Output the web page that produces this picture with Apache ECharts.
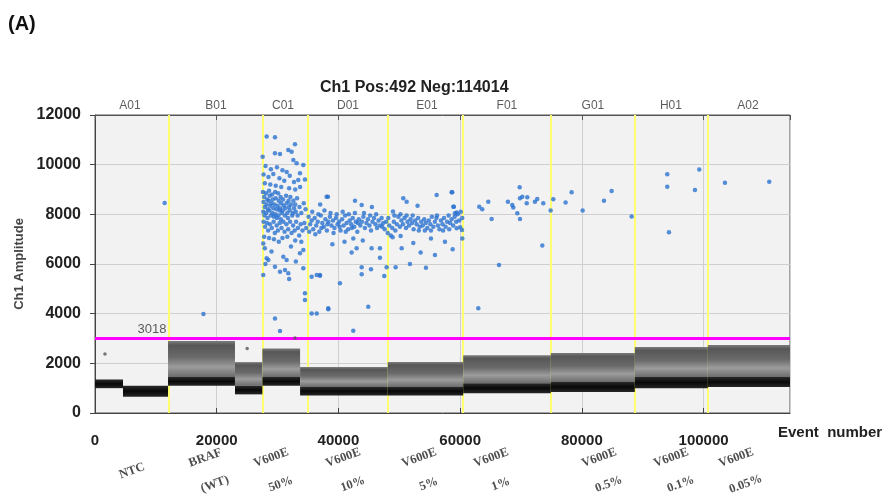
<!DOCTYPE html>
<html><head><meta charset="utf-8">
<script src="https://cdn.jsdelivr.net/npm/echarts@6/dist/echarts.min.js"></script>
<style>html,body{margin:0;padding:0;background:#fff}#c{width:893px;height:497px}</style>
</head><body><div id="c"></div>
<script>
// ---- data ----
const titleText = 'Ch1 Pos:492 Neg:114014';
const threshold = 3018;
const wellNames = ['A01','B01','C01','D01','E01','F01','G01','H01','A02'];
const wellCenters = [5750,19880,30890,41570,54550,67690,81820,94640,107300];
const wellBoundaries = [12160,27600,35000,48140,60460,74920,88720,100720];
const sampleNames = ['NTC','BRAF\n(WT)','V600E\n50%','V600E\n10%','V600E\n5%','V600E\n1%','V600E\n0.5%','V600E\n0.1%','V600E\n0.05%'];
const sampleX = [6080,18900,29740,41570,54050,65880,83630,95460,106140];
// negative droplet bands: [eventStart, eventEnd, blackLow, blackHigh, grayTop(0 = none)]
const negBands = [
  [0,4600,1000,1350,0],
  [4600,12000,650,1100,0],
  [12000,23000,1100,1450,2900],
  [23000,27500,750,1100,2050],
  [27500,33700,1100,1450,2600],
  [33700,48100,700,1050,1850],
  [48100,60500,700,1050,2050],
  [60500,74900,800,1200,2330],
  [74900,88700,850,1250,2420],
  [88700,100700,1000,1450,2660],
  [100700,114200,1050,1450,2740]
];
const negOutliers = [[1635,2375],[25000,2600],[32860,3020]];
const posDroplets = [
 [11445,8457],[17820,3990],
 [28210,11130],[29570,11100],[32860,10820],[27550,10320],[29570,10460],[30400,10430],[31760,10590],[32310,10520],[32590,10190],[33130,10060],[34230,9990],[33680,9650],[33400,9380],[28020,9950],[28900,9820],[29900,9900],[30800,9780],[31500,9700],[27700,9600],[28500,9500],[29300,9620],[30300,9450],[31100,9350],[32000,9550],[32700,9300],[27900,9250],[28800,9200],[29700,9150],[30600,9100],[31900,9050],[32900,9000],[33700,9100],[34500,9400],
 [27600,8900],[27800,8700],[27700,8500],[27900,8300],[27650,8100],[27850,7950],[28100,8850],[28300,8600],[28200,8400],[28400,8200],[28150,8050],[28350,7850],[28600,8950],[28700,8750],[28550,8550],[28800,8350],[28650,8150],[28900,7950],[29100,8800],[29200,8600],[29000,8450],[29300,8250],[29150,8050],[29400,7900],[29600,8900],[29700,8650],[29500,8400],[29800,8200],[29650,8000],[29900,7850],[30100,8850],[30200,8550],[30000,8350],[30300,8150],[30150,7950],[30500,8700],[30600,8450],[30400,8250],[30700,8050],[30550,7800],[30900,8600],[31000,8350],[30850,8150],[31200,7950],[31400,8750],[31500,8450],[31300,8250],[31600,8050],[31800,8550],[31900,8300],[31700,7850],[32100,8700],[32200,8400],[32000,8150],[32400,7950],[32600,8550],[32700,8250],[32500,8050],[32900,8400],[33000,8100],[33200,8650],[33300,7950],[33600,8300],[33900,8050],[34300,8450],[34600,8200],
 [27700,7700],[27950,7500],[28250,7650],[28450,7350],[28750,7600],[29050,7450],[29350,7700],[29550,7250],[29850,7550],[30050,7350],[30350,7650],[30650,7450],[30950,7700],[31150,7300],[31450,7600],[31750,7400],[32050,7700],[32300,7250],[32550,7550],[32800,7350],[33050,7700],[33350,7450],[33550,7150],[33800,7600],[34100,7350],[34400,7650],[34700,7450],[27800,7100],[28600,7050],[29400,7000],[30800,7050],[31600,7100],[32900,6950],[33900,6900],
 [27650,5560],[29570,5890],[30400,5690],[31220,5760],[31760,5630],[28210,6230],[28480,6160],[30940,6290],[31490,6160],[34230,5830],[27650,6830],[27900,6630],[33680,6430],[34230,6560],[34500,4820],[34500,4550],[29570,3810],[30400,3300],[28000,6000],[32200,6700],[29000,6500],[33000,6100],[30200,6900],[31900,5400],
 [35100,7900],[35350,7600],[35600,7750],[35850,7400],[36100,7850],[36350,7550],[36600,7700],[36850,7300],[37100,7950],[37350,7650],[37600,7500],[37850,7800],[38100,7350],[38350,7700],[38600,7900],[38850,7550],[39100,7750],[39350,7450],[39600,7850],[39850,7600],[40100,7700],[40350,7350],[40600,7800],[40850,7550],[41100,7950],[41350,7650],[41600,7400],[41850,7750],[42100,7600],[42350,7850],[42600,7500],[42850,7700],[43100,7300],[43350,7800],[43600,7550],[43850,7700],[44100,7900],[44350,7450],[44600,7650],[44850,7800],[45100,7550],[45350,7350],[45600,7700],[45850,7850],[46100,7600],[46350,7450],[46600,7750],[46850,7550],[47100,7850],[47350,7650],[47600,7400],[47850,7700],[48100,7250],[48350,7550],[48600,7150],[48850,7450],[49100,7700],[49350,7350],[49600,7600],[49850,7900],[50100,7500],[50350,7750],[50600,7600],[50850,7850],[51100,7450],[51350,7700],[51600,7550],[51850,7800],[52100,7650],[52350,7400],[52600,7750],[52850,7600],[53100,7850],[53350,7500],[53600,7700],[53850,7550],[54100,7800],[54350,7650],[54600,7450],[54850,7750],[55100,7600],[55350,7900],[55600,7500],[55850,7700],[56100,7850],[56350,7550],[56600,7400],[56850,7750],[57100,7600],[57350,7850],[57600,7500],[57850,7700],[58100,7950],[58350,7650],[58600,7800],[58850,7550],[59100,7900],[59350,7700],[59600,8000],[59850,7750],[60100,8100],[60350,7850],
 [35200,7300],[35700,8100],[36200,7200],[36700,8000],[37200,7450],[37700,8150],[38200,7600],[38700,8050],[39200,7250],[39700,8000],[40200,7500],[40700,8100],[41200,7300],[41700,8000],[42200,7450],[42700,8050],[43200,7650],[44200,8050],[45200,7950],[46200,8000],[47200,7500],[48200,7850],[49200,7950],[50200,8000],[51200,7950],[52200,7950],[53200,7350],[54200,7350],[55200,7350],[56200,7950],[57200,7350],[58200,7400],
 [38060,8710],[38280,8710],[42720,8550],[43820,8380],[48960,8110],[50650,8650],[51210,8510],[56140,8780],[58700,8890],[58980,8310],[37000,8400],[45500,8300],[53000,8350],
 [35600,5490],[36430,5560],[36970,5530],[35600,4010],[36430,4010],[38330,4220],[40250,5220],[44900,4280],[42440,3310],[42170,6460],[42990,6630],[45450,6630],[46820,6630],[50390,6630],[46820,6250],[43820,5870],[45350,5790],[43820,5590],[47920,5870],[47530,5520],[49400,5870],[51750,6000],[53510,6460],[54380,5850],[55860,6360],[58770,6590],[60350,7030],[59430,7440],[55200,7030],[50220,7130],[48910,7080],[42440,7030],[36970,5560],[38330,4180],[39000,6800],[41000,6900],[44000,6950],[52300,6850],[57500,6900],
 [58600,8890],[58870,8310],[59140,8040],[59430,8070],[60000,7480],[60300,7370],[63140,8310],[63630,8200],[64620,8510],[65170,7810],[66380,5960],[62980,4220],[67850,8510],[68560,8380],[68730,8280],[69390,8040],[69830,7810],[69780,9090],[69830,8650],[70210,8710],[71030,8690],[70940,8450],[72290,8510],[72670,8620],[73660,8450],[73500,6740],[74870,8150],[75300,8610],[77330,8480],[78320,8890],[80130,8150],[83630,8550],[84890,8940],[88180,7910],[94030,9610],[94030,9110],[94310,7280],[98580,8980],[99290,9810],[103510,9270],[110790,9310]
];
const thresholdLabelX = 9365;

// ---- chart ----
const chart = echarts.init(document.getElementById('c'));
const narrow = "'Liberation Sans Narrow','Arial Narrow','Liberation Sans',Arial,sans-serif";
const grayFill = new echarts.graphic.LinearGradient(0,0,0,1,[
  {offset:0,color:'#7c7c7c'},{offset:0.12,color:'#575757'},{offset:0.45,color:'#6a6a6a'},
  {offset:0.72,color:'#9c9c9c'},{offset:1,color:'#6c6c6c'}]);
const blackFill = new echarts.graphic.LinearGradient(0,0,0,1,[
  {offset:0,color:'#2a2a2a'},{offset:0.5,color:'#080808'},{offset:1,color:'#262626'}]);
const plain = v => String(v);
const rot = 20, lblDrop = 58;
const rad = rot * Math.PI / 180;

const xCommon = {type:'value', min:0, max:114200, interval:20000};
chart.setOption({
  animation:false,
  title:{text:titleText, left:315, top:75, textStyle:{fontFamily:narrow, fontSize:16, fontWeight:'bold', color:'#222'}},
  grid:{left:95, right:103, top:115, bottom:84, show:true, backgroundColor:'#f2f2f2', borderColor:'#555', borderWidth:1},
  xAxis:[
    Object.assign({}, xCommon, {position:'bottom',
      axisLine:{show:true, lineStyle:{color:'#444'}},
      axisTick:{show:true, inside:true, length:5, lineStyle:{color:'#444'}},
      axisLabel:{fontSize:15, fontWeight:'bold', color:'#222', margin:20, showMaxLabel:false, formatter:plain, fontFamily:'Liberation Sans,Arial,sans-serif'},
      splitLine:{show:true, lineStyle:{color:'#cfcfcf'}}}),
    Object.assign({}, xCommon, {position:'top',
      axisLine:{show:true, lineStyle:{color:'#555'}},
      axisTick:{show:true, inside:true, length:5, lineStyle:{color:'#555'}},
      axisLabel:{show:false}, splitLine:{show:false}})
  ],
  yAxis:{type:'value', min:0, max:12000, interval:2000,
    name:'Ch1 Amplitude', nameLocation:'middle', nameGap:68,
    nameTextStyle:{fontSize:13, fontWeight:'bold', color:'#444', fontFamily:'Liberation Sans,Arial,sans-serif'},
    axisLine:{show:true, lineStyle:{color:'#444'}},
    axisTick:{show:true, length:5, lineStyle:{color:'#444'}},
    axisLabel:{fontSize:16, fontWeight:'bold', color:'#222', margin:14, formatter:plain, fontFamily:'Liberation Sans,Arial,sans-serif'},
    splitLine:{show:true, lineStyle:{color:'#cfcfcf'}}},
  graphic:[
    {type:'text', left:8, top:14, style:{text:'(A)', font:'600 20px "Liberation Sans",Arial', fill:'#111'}},
    {type:'text', left:778, top:425, style:{text:'Event  number', font:'bold 15px "Liberation Sans",Arial', fill:'#222'}}
  ],
  series:[
    {type:'custom', name:'negative', data:negBands, z:2, clip:true,
      encode:{x:[0,1], y:[2,3,4]},
      renderItem:function(params, api){
        const x0=api.value(0), x1=api.value(1), bl=api.value(2), bh=api.value(3), gt=api.value(4);
        const a=api.coord([x0,bh]), b=api.coord([x1,bl]);
        const ch=[];
        if(gt>0){
          const g=api.coord([x0,gt]);
          ch.push({type:'rect', shape:{x:g[0], y:g[1], width:b[0]-g[0], height:a[1]-g[1]}, style:{fill:grayFill}});
        }
        ch.push({type:'rect', shape:{x:a[0], y:a[1], width:b[0]-a[0], height:b[1]-a[1]}, style:{fill:blackFill}});
        return {type:'group', children:ch};
      },
      markLine:{silent:true, symbol:'none', label:{show:false}, z:1,
        data: wellBoundaries.map(v=>({xAxis:v, lineStyle:{color:'#ffff70', width:2, type:'solid'}}))
          .concat([{yAxis:threshold, lineStyle:{color:'#ff00ff', width:3, type:'solid'}}])}
    },
    {type:'scatter', name:'neg outliers', data:negOutliers, symbolSize:3.5, itemStyle:{color:'#555'}, z:3},
    {type:'scatter', name:'positive', data:posDroplets, symbolSize:4.5, itemStyle:{color:'#2a72d0'}, z:4},
    {type:'scatter', name:'wells', clip:false, symbolSize:0, silent:true,
      data: wellNames.map((n,i)=>({name:n, value:[wellCenters[i],12000]})),
      label:{show:true, position:'top', distance:3, formatter:'{b}', fontFamily:narrow, fontSize:12, color:'#333'}},
    {type:'scatter', name:'samples', clip:false, symbolSize:0, silent:true,
      data: sampleNames.map((n,i)=>({name:n, value:[sampleX[i],0]})),
      label:{show:true, position:'inside', offset:[-lblDrop*Math.cos(rad)*Math.tan(rad), lblDrop*Math.cos(rad)], rotate:rot, formatter:'{b}', align:'center', verticalAlign:'middle',
        fontFamily:"'Liberation Serif','Times New Roman',serif", fontWeight:'bold', fontSize:12.5, lineHeight:28, color:'#222'}},
    {type:'scatter', name:'threshold label', clip:false, symbolSize:0, silent:true,
      data:[{name:String(threshold), value:[thresholdLabelX, threshold]}],
      label:{show:true, position:'top', distance:2, formatter:'{b}', fontSize:13, color:'#333', fontFamily:'Liberation Sans,Arial,sans-serif'}}
  ]
});
</script></body></html>
